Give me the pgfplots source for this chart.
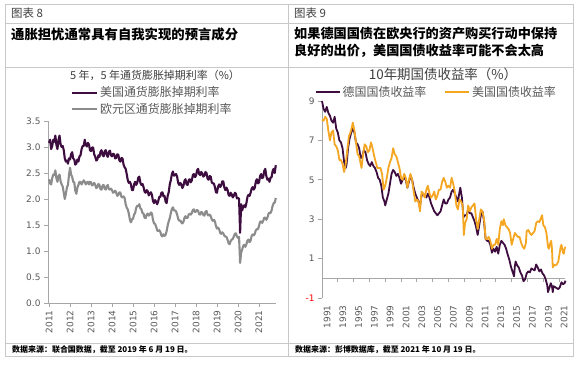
\documentclass[border=0pt]{standalone}
\usepackage{fontspec}
\usepackage{pgfplots}
\pgfplotsset{compat=1.18}
\setmainfont{Noto Sans CJK SC}
\newfontfamily\dejavu{DejaVu Sans}
\definecolor{plum}{HTML}{3E0D40}
\definecolor{eugray}{HTML}{8C8C8C}
\definecolor{usorange}{HTML}{F5A623}
\definecolor{axgray}{HTML}{A6A6A6}
\definecolor{bordergray}{HTML}{C8C8C8}
\definecolor{tickgray}{HTML}{595959}
\definecolor{txtgray}{HTML}{404040}
\newcommand\ticksfont{\dejavu\fontsize{9}{10}\selectfont}
\newcommand\legfont{\fontsize{12}{13}\selectfont}
\begin{document}
\begin{tikzpicture}[x=1bp,y=1bp]
\path[fill=white] (0,0) rectangle (580,364);
% table frame
\begin{scope}[draw=bordergray,line width=0.8bp]
\draw (5,360) rectangle (573,8);
\draw (288,360) -- (288,8);
\draw (5,341) -- (573,341);
\draw (5,297) -- (573,297);
\draw (5,21) -- (573,21);
\end{scope}
% headers
\node[anchor=west,inner sep=0pt,text=txtgray,font=\fontsize{11.5}{12}\selectfont] at (11,350.5) {图表 8};
\node[anchor=west,inner sep=0pt,text=txtgray,font=\fontsize{11.5}{12}\selectfont] at (294,350.5) {图表 9};
\node[anchor=west,inner sep=0pt,text=black,font=\bfseries\fontsize{13.4}{15}\selectfont] at (11,330) {通胀担忧通常具有自我实现的预言成分};
\node[anchor=west,inner sep=0pt,text=black,font=\bfseries\fontsize{13.2}{15}\selectfont] at (294,330) {如果德国国债在欧央行的资产购买行动中保持};
\node[anchor=west,inner sep=0pt,text=black,font=\bfseries\fontsize{13.2}{15}\selectfont] at (294,313) {良好的出价，美国国债收益率可能不会太高};
% chart titles
\node[inner sep=0pt,text=txtgray,font=\fontsize{11}{12}\selectfont] at (155,289) {5 年，5 年通货膨胀掉期利率（\%）};
\node[inner sep=0pt,text=txtgray,font=\fontsize{13.5}{15}\selectfont] at (443,290) {10年期国债收益率（\%）};
% sources
\node[anchor=west,inner sep=0pt,text=black,font=\bfseries\fontsize{8}{9}\selectfont] at (12,14) {数据来源：联合国数据，截至 2019 年 6 月 19 日。};
\node[anchor=west,inner sep=0pt,text=black,font=\bfseries\fontsize{8}{9}\selectfont] at (295,14) {数据来源：彭博数据库，截至 2021 年 10 月 19 日。};

% ---------------- left chart
\begin{axis}[at={(48bp,61bp)}, anchor=south west, scale only axis,
  width=228bp, height=182bp,
  xmin=2010.95, xmax=2021.81, ymin=0, ymax=3.5,
  axis lines=left, axis line style={draw=axgray, line width=0.8bp, -},
  xtick={2011,...,2021}, ytick={0,0.5,...,3.5},
  tick align=outside, major tick length=4bp,
  tick style={draw=axgray, line width=0.8bp},
  /pgf/number format/1000 sep={}, /pgf/number format/assume math mode=true,
  xticklabel style={rotate=90, anchor=east, font=\ticksfont, text=tickgray},
  yticklabel style={font=\ticksfont, text=tickgray, /pgf/number format/.cd, fixed, fixed zerofill, precision=1},
  legend style={at={(axis description cs:0.1,1.2)}, anchor=north west, draw=none, fill=none,
    font=\legfont, text=tickgray, row sep=1bp, inner sep=0pt},
  legend cell align=left,
  legend image code/.code={\draw[#1] (0bp,0bp) -- (25bp,0bp);},
  clip=false]
\addplot[plum, line width=2.1bp, line join=round] coordinates {
(2011.00,3.08)(2011.05,3.14)(2011.10,2.96)(2011.15,3.02)(2011.20,3.14)(2011.25,3.10)(2011.30,3.22)(2011.35,3.04)(2011.40,2.96)(2011.45,3.14)
(2011.50,3.22)(2011.55,3.05)(2011.60,3.00)(2011.65,3.02)(2011.70,2.94)(2011.75,2.78)(2011.80,2.72)(2011.85,2.74)(2011.90,2.68)(2011.95,2.78)
(2012.00,2.76)(2012.05,2.86)(2012.10,2.90)(2012.15,2.78)(2012.20,2.76)(2012.25,2.66)(2012.30,2.68)(2012.35,2.76)(2012.40,2.72)(2012.45,2.82)
(2012.50,2.84)(2012.55,2.96)(2012.60,3.02)(2012.65,3.02)(2012.70,3.14)(2012.75,3.04)(2012.80,3.01)(2012.85,3.08)(2012.90,3.05)(2012.95,2.94)
(2013.00,2.92)(2013.05,2.99)(2013.10,2.99)(2013.15,2.86)(2013.20,2.81)(2013.25,2.74)(2013.30,2.76)(2013.35,2.84)(2013.40,2.81)(2013.45,2.91)
(2013.50,2.94)(2013.55,2.84)(2013.60,2.82)(2013.65,2.92)(2013.70,2.94)(2013.75,2.84)(2013.80,2.81)(2013.85,2.91)(2013.90,2.93)(2013.95,2.84)
(2014.00,2.82)(2014.05,2.87)(2014.10,2.86)(2014.15,2.78)(2014.20,2.79)(2014.25,2.86)(2014.30,2.85)(2014.35,2.74)(2014.40,2.72)(2014.45,2.79)
(2014.50,2.78)(2014.55,2.66)(2014.60,2.61)(2014.65,2.58)(2014.70,2.48)(2014.75,2.36)(2014.80,2.31)(2014.85,2.33)(2014.90,2.28)(2014.95,2.17)
(2015.00,2.17)(2015.05,2.28)(2015.10,2.33)(2015.15,2.27)(2015.20,2.31)(2015.25,2.41)(2015.30,2.43)(2015.35,2.31)(2015.40,2.27)(2015.45,2.29)
(2015.50,2.23)(2015.55,2.14)(2015.60,2.12)(2015.65,2.17)(2015.70,2.15)(2015.75,2.07)(2015.80,2.10)(2015.85,2.13)(2015.90,2.08)(2015.95,1.96)
(2016.00,1.92)(2016.05,1.98)(2016.10,1.95)(2016.15,1.90)(2016.20,1.96)(2016.25,2.04)(2016.30,2.04)(2016.35,2.12)(2016.40,2.13)(2016.45,2.05)
(2016.50,2.06)(2016.55,1.95)(2016.60,1.92)(2016.65,2.06)(2016.70,2.13)(2016.75,2.28)(2016.80,2.36)(2016.85,2.48)(2016.90,2.53)(2016.95,2.45)
(2017.00,2.46)(2017.05,2.48)(2017.10,2.43)(2017.15,2.31)(2017.20,2.27)(2017.25,2.31)(2017.30,2.28)(2017.35,2.21)(2017.40,2.25)(2017.45,2.35)
(2017.50,2.38)(2017.55,2.28)(2017.60,2.27)(2017.65,2.36)(2017.70,2.38)(2017.75,2.32)(2017.80,2.36)(2017.85,2.46)(2017.90,2.48)(2017.95,2.42)
(2018.00,2.45)(2018.05,2.55)(2018.10,2.58)(2018.15,2.48)(2018.20,2.46)(2018.25,2.52)(2018.30,2.49)(2018.35,2.43)(2018.40,2.45)(2018.45,2.52)
(2018.50,2.50)(2018.55,2.39)(2018.60,2.37)(2018.65,2.44)(2018.70,2.43)(2018.75,2.32)(2018.80,2.30)(2018.85,2.30)(2018.90,2.23)(2018.95,2.13)
(2019.00,2.12)(2019.05,2.24)(2019.10,2.28)(2019.15,2.23)(2019.20,2.26)(2019.25,2.34)(2019.30,2.34)(2019.35,2.22)(2019.40,2.17)(2019.45,2.22)
(2019.50,2.18)(2019.55,2.08)(2019.60,2.06)(2019.65,2.12)(2019.70,2.09)(2019.75,2.03)(2019.80,2.06)(2019.85,2.12)(2019.90,2.10)(2019.95,2.01)
(2020.00,2.02)(2020.05,2.00)(2020.10,1.35)(2020.15,1.90)(2020.20,1.78)(2020.25,1.86)(2020.30,1.88)(2020.35,1.84)(2020.40,1.92)(2020.45,2.04)
(2020.50,2.08)(2020.55,2.06)(2020.60,2.12)(2020.65,2.20)(2020.70,2.23)(2020.75,2.18)(2020.80,2.22)(2020.85,2.34)(2020.90,2.38)(2020.95,2.30)
(2021.00,2.32)(2021.05,2.44)(2021.10,2.48)(2021.15,2.40)(2021.20,2.42)(2021.25,2.54)(2021.30,2.58)(2021.35,2.44)(2021.40,2.37)(2021.45,2.39)
(2021.50,2.33)(2021.55,2.41)(2021.60,2.42)(2021.65,2.54)(2021.70,2.58)(2021.75,2.50)(2021.80,2.65)
};
\addlegendentry{美国通货膨胀掉期利率}
\addplot[eugray, line width=2.1bp, line join=round] coordinates {
(2011.00,2.38)(2011.05,2.30)(2011.10,2.28)(2011.15,2.40)(2011.20,2.47)(2011.25,2.46)(2011.30,2.55)(2011.35,2.40)(2011.40,2.33)(2011.45,2.44)
(2011.50,2.47)(2011.55,2.34)(2011.60,2.28)(2011.65,2.24)(2011.70,2.12)(2011.75,2.00)(2011.80,2.10)(2011.85,2.22)(2011.90,2.27)(2011.95,2.46)
(2012.00,2.60)(2012.05,2.47)(2012.10,2.43)(2012.15,2.33)(2012.20,2.32)(2012.25,2.16)(2012.30,2.10)(2012.35,2.22)(2012.40,2.27)(2012.45,2.33)
(2012.50,2.33)(2012.55,2.28)(2012.60,2.32)(2012.65,2.36)(2012.70,2.33)(2012.75,2.28)(2012.80,2.32)(2012.85,2.33)(2012.90,2.28)(2012.95,2.33)
(2013.00,2.32)(2013.05,2.26)(2013.10,2.28)(2013.15,2.31)(2013.20,2.27)(2013.25,2.21)(2013.30,2.23)(2013.35,2.29)(2013.40,2.27)(2013.45,2.19)
(2013.50,2.18)(2013.55,2.26)(2013.60,2.27)(2013.65,2.20)(2013.70,2.18)(2013.75,2.25)(2013.80,2.27)(2013.85,2.19)(2013.90,2.18)(2013.95,2.20)
(2014.00,2.17)(2014.05,2.12)(2014.10,2.13)(2014.15,2.16)(2014.20,2.12)(2014.25,2.06)(2014.30,2.08)(2014.35,2.13)(2014.40,2.12)(2014.45,2.04)
(2014.50,2.03)(2014.55,2.05)(2014.60,2.02)(2014.65,1.90)(2014.70,1.83)(2014.75,1.80)(2014.80,1.72)(2014.85,1.60)(2014.90,1.55)(2014.95,1.61)
(2015.00,1.62)(2015.05,1.70)(2015.10,1.73)(2015.15,1.83)(2015.20,1.87)(2015.25,1.86)(2015.30,1.90)(2015.35,1.82)(2015.40,1.80)(2015.45,1.73)
(2015.50,1.72)(2015.55,1.64)(2015.60,1.63)(2015.65,1.70)(2015.70,1.72)(2015.75,1.68)(2015.80,1.70)(2015.85,1.74)(2015.90,1.72)(2015.95,1.60)
(2016.00,1.53)(2016.05,1.52)(2016.10,1.47)(2016.15,1.40)(2016.20,1.38)(2016.25,1.40)(2016.30,1.37)(2016.35,1.30)(2016.40,1.28)(2016.45,1.32)
(2016.50,1.29)(2016.55,1.31)(2016.60,1.38)(2016.65,1.49)(2016.70,1.57)(2016.75,1.63)(2016.80,1.73)(2016.85,1.81)(2016.90,1.84)(2016.95,1.78)
(2017.00,1.78)(2017.05,1.76)(2017.10,1.70)(2017.15,1.62)(2017.20,1.58)(2017.25,1.59)(2017.30,1.55)(2017.35,1.53)(2017.40,1.56)(2017.45,1.64)
(2017.50,1.67)(2017.55,1.63)(2017.60,1.64)(2017.65,1.70)(2017.70,1.72)(2017.75,1.70)(2017.80,1.73)(2017.85,1.79)(2017.90,1.80)(2017.95,1.75)
(2018.00,1.76)(2018.05,1.79)(2018.10,1.77)(2018.15,1.71)(2018.20,1.70)(2018.25,1.75)(2018.30,1.74)(2018.35,1.69)(2018.40,1.68)(2018.45,1.75)
(2018.50,1.77)(2018.55,1.70)(2018.60,1.68)(2018.65,1.70)(2018.70,1.67)(2018.75,1.61)(2018.80,1.58)(2018.85,1.60)(2018.90,1.57)(2018.95,1.48)
(2019.00,1.43)(2019.05,1.45)(2019.10,1.42)(2019.15,1.35)(2019.20,1.33)(2019.25,1.36)(2019.30,1.34)(2019.35,1.29)(2019.40,1.28)(2019.45,1.27)
(2019.50,1.22)(2019.55,1.15)(2019.60,1.13)(2019.65,1.19)(2019.70,1.22)(2019.75,1.23)(2019.80,1.28)(2019.85,1.33)(2019.90,1.34)(2019.95,1.28)
(2020.00,1.25)(2020.05,1.27)(2020.10,0.77)(2020.15,0.97)(2020.20,1.03)(2020.25,1.10)(2020.30,1.12)(2020.35,1.08)(2020.40,1.13)(2020.45,1.20)
(2020.50,1.22)(2020.55,1.17)(2020.60,1.20)(2020.65,1.29)(2020.70,1.32)(2020.75,1.30)(2020.80,1.33)(2020.85,1.40)(2020.90,1.42)(2020.95,1.42)
(2021.00,1.48)(2021.05,1.56)(2021.10,1.57)(2021.15,1.54)(2021.20,1.58)(2021.25,1.64)(2021.30,1.64)(2021.35,1.60)(2021.40,1.64)(2021.45,1.71)
(2021.50,1.74)(2021.55,1.73)(2021.60,1.78)(2021.65,1.87)(2021.70,1.92)(2021.75,1.93)(2021.80,2.02)
};
\addlegendentry{欧元区通货膨胀掉期利率}
\end{axis}

% ---------------- right chart
\begin{axis}[at={(322bp,66bp)}, anchor=south west, scale only axis,
  width=243bp, height=197bp,
  xmin=1991, xmax=2021.75, ymin=-1, ymax=9,
  axis x line=bottom, axis y line=left,
  axis line style={-}, x axis line style={draw=none},
  y axis line style={draw=axgray, line width=0.8bp},
  xtick={1991,1993,...,2021}, ytick={1,3,5,7,9},
  extra y ticks={-1}, extra y tick labels={\textcolor{red}{-1}},
  extra y tick style={tick style={draw=axgray, line width=0.8bp}},
  tick align=outside, major tick length=4bp,
  xtick style={draw=none}, ytick style={draw=axgray, line width=0.8bp},
  /pgf/number format/1000 sep={}, /pgf/number format/assume math mode=true,
  xticklabel style={rotate=90, anchor=east, font=\ticksfont, text=tickgray, yshift=-5bp},
  yticklabel style={font=\ticksfont, text=tickgray},
  legend columns=2,
  legend style={at={(axis description cs:-0.03,1.085)}, anchor=north west, draw=none, fill=none,
    font=\legfont, text=tickgray, inner sep=0pt, /tikz/every even column/.append style={column sep=16bp}},
  legend image code/.code={\draw[#1] (0bp,0bp) -- (24bp,0bp);},
  clip=false]
\draw[axgray, line width=0.8bp] (axis cs:1991,0) -- (axis cs:2021.75,0);
\pgfplotsinvokeforeach{1991,1993,...,2021}{\draw[axgray, line width=0.8bp] (axis cs:#1,0) -- ([yshift=-4bp]axis cs:#1,0);}
\addplot[plum, line width=1.8bp, line join=round] coordinates {
(1991.0,9.0)(1991.2,8.6)(1991.4,8.45)(1991.6,8.7)(1991.8,8.4)(1992.0,8.25)(1992.2,8.0)(1992.4,7.9)(1992.6,8.2)(1992.8,7.6)
(1993.0,7.4)(1993.2,7.0)(1993.4,6.9)(1993.6,6.6)(1993.8,5.9)(1994.0,5.6)(1994.1,5.75)(1994.3,6.6)(1994.5,7.1)(1994.7,7.4)
(1994.9,7.6)(1995.1,7.4)(1995.3,6.9)(1995.5,6.8)(1995.7,6.6)(1995.9,6.1)(1996.1,6.2)(1996.3,6.5)(1996.5,6.4)(1996.7,6.0)
(1996.9,5.8)(1997.1,5.7)(1997.3,5.9)(1997.5,5.7)(1997.7,5.6)(1997.9,5.4)(1998.1,5.1)(1998.3,5.0)(1998.5,4.7)(1998.7,4.1)
(1998.9,3.9)(1999.0,3.7)(1999.2,4.0)(1999.4,4.3)(1999.6,4.8)(1999.8,5.3)(2000.0,5.5)(2000.2,5.4)(2000.4,5.2)(2000.6,5.3)
(2000.8,5.1)(2001.0,4.8)(2001.2,5.0)(2001.4,5.1)(2001.6,5.0)(2001.8,4.6)(2002.0,4.9)(2002.2,5.2)(2002.4,5.0)(2002.6,4.6)
(2002.8,4.3)(2003.0,4.1)(2003.2,3.9)(2003.4,3.7)(2003.6,4.2)(2003.8,4.3)(2004.0,4.2)(2004.2,4.1)(2004.4,4.3)(2004.6,4.1)
(2004.8,3.8)(2005.0,3.6)(2005.2,3.4)(2005.4,3.3)(2005.6,3.2)(2005.8,3.3)(2006.0,3.4)(2006.2,3.7)(2006.4,4.0)(2006.6,3.8)
(2006.8,3.8)(2007.0,4.0)(2007.2,4.1)(2007.4,4.4)(2007.6,4.5)(2007.8,4.3)(2008.0,4.1)(2008.2,3.9)(2008.4,4.4)(2008.5,4.6)
(2008.7,4.1)(2008.9,3.1)(2009.1,3.2)(2009.3,3.2)(2009.5,3.5)(2009.7,3.3)(2009.9,3.3)(2010.1,3.1)(2010.3,2.9)(2010.5,2.6)
(2010.7,2.2)(2010.9,2.7)(2011.1,3.2)(2011.3,3.4)(2011.5,2.9)(2011.7,2.0)(2011.9,1.9)(2012.1,1.9)(2012.3,1.7)(2012.5,1.3)
(2012.7,1.5)(2012.9,1.35)(2013.1,1.6)(2013.3,1.25)(2013.5,1.7)(2013.7,1.9)(2013.9,1.8)(2014.1,1.7)(2014.3,1.5)(2014.5,1.2)
(2014.7,0.95)(2014.9,0.6)(2015.1,0.35)(2015.3,0.1)(2015.4,0.6)(2015.5,0.85)(2015.7,0.65)(2015.9,0.55)(2016.1,0.3)(2016.3,0.15)
(2016.5,-0.15)(2016.7,-0.05)(2016.9,0.25)(2017.1,0.35)(2017.3,0.3)(2017.5,0.5)(2017.7,0.45)(2017.9,0.4)(2018.1,0.7)(2018.3,0.55)
(2018.5,0.35)(2018.7,0.45)(2018.9,0.25)(2019.1,0.15)(2019.3,-0.05)(2019.5,-0.35)(2019.6,-0.7)(2019.8,-0.45)(2019.95,-0.25)(2020.1,-0.4)
(2020.2,-0.7)(2020.3,-0.4)(2020.5,-0.45)(2020.7,-0.5)(2020.9,-0.55)(2021.1,-0.45)(2021.3,-0.2)(2021.5,-0.3)(2021.7,-0.25)(2021.8,-0.12)
};
\addlegendentry{德国国债收益率}
\addplot[usorange, line width=1.8bp, line join=round] coordinates {
(1991.0,8.05)(1991.2,8.0)(1991.4,8.2)(1991.6,8.1)(1991.8,7.5)(1992.0,7.0)(1992.2,7.4)(1992.4,7.5)(1992.6,6.8)(1992.8,6.7)
(1993.0,6.5)(1993.2,6.0)(1993.4,6.0)(1993.6,5.8)(1993.8,5.4)(1994.0,5.8)(1994.2,6.5)(1994.4,7.2)(1994.6,7.4)(1994.8,7.7)
(1994.9,7.9)(1995.1,7.5)(1995.3,6.9)(1995.5,6.3)(1995.7,6.2)(1995.9,5.8)(1996.0,5.6)(1996.2,6.3)(1996.4,6.8)(1996.6,6.7)
(1996.8,6.4)(1997.0,6.5)(1997.2,6.9)(1997.4,6.6)(1997.6,6.2)(1997.8,5.9)(1998.0,5.6)(1998.2,5.6)(1998.4,5.6)(1998.6,5.3)
(1998.8,4.5)(1999.0,4.7)(1999.2,5.1)(1999.4,5.6)(1999.6,5.9)(1999.8,6.1)(2000.0,6.6)(2000.2,6.3)(2000.4,6.2)(2000.6,5.9)
(2000.8,5.6)(2001.0,5.1)(2001.2,5.0)(2001.4,5.3)(2001.6,5.1)(2001.8,4.6)(2002.0,5.0)(2002.2,5.3)(2002.4,5.0)(2002.6,4.4)
(2002.8,3.9)(2003.0,4.0)(2003.2,3.9)(2003.4,3.4)(2003.6,4.4)(2003.8,4.3)(2004.0,4.1)(2004.2,4.5)(2004.4,4.7)(2004.6,4.3)
(2004.8,4.1)(2005.0,4.2)(2005.2,4.4)(2005.4,4.0)(2005.6,4.2)(2005.8,4.5)(2006.0,4.5)(2006.2,4.9)(2006.4,5.1)(2006.6,4.9)
(2006.8,4.6)(2007.0,4.7)(2007.2,4.6)(2007.4,5.1)(2007.6,4.8)(2007.8,4.4)(2008.0,3.7)(2008.2,3.5)(2008.4,4.0)(2008.6,3.9)
(2008.8,3.7)(2008.95,2.2)(2009.1,2.8)(2009.3,3.0)(2009.5,3.7)(2009.7,3.4)(2009.9,3.6)(2010.1,3.7)(2010.3,3.8)(2010.5,3.0)
(2010.7,2.5)(2010.9,3.0)(2011.1,3.5)(2011.3,3.4)(2011.5,3.0)(2011.7,2.0)(2011.9,2.0)(2012.1,2.1)(2012.3,1.9)(2012.5,1.5)
(2012.7,1.7)(2012.9,1.7)(2013.1,2.0)(2013.3,1.7)(2013.5,2.5)(2013.7,2.9)(2013.9,2.7)(2014.0,3.0)(2014.2,2.7)(2014.4,2.6)
(2014.6,2.5)(2014.8,2.3)(2015.0,1.7)(2015.2,2.0)(2015.4,2.3)(2015.6,2.2)(2015.8,2.1)(2016.0,2.1)(2016.2,1.8)(2016.4,1.6)
(2016.6,1.5)(2016.8,1.8)(2016.9,2.4)(2017.1,2.45)(2017.3,2.3)(2017.5,2.2)(2017.7,2.3)(2017.9,2.4)(2018.1,2.8)(2018.3,2.9)
(2018.5,2.85)(2018.7,3.05)(2018.85,3.2)(2019.0,2.7)(2019.2,2.6)(2019.4,2.3)(2019.6,1.6)(2019.7,1.5)(2019.9,1.8)(2020.0,1.9)
(2020.1,1.5)(2020.2,0.55)(2020.3,0.7)(2020.5,0.65)(2020.7,0.7)(2020.9,0.85)(2021.0,1.1)(2021.2,1.6)(2021.3,1.7)(2021.5,1.3)
(2021.6,1.25)(2021.7,1.5)(2021.8,1.6)
};
\addlegendentry{美国国债收益率}
\end{axis}
\end{tikzpicture}
\end{document}
